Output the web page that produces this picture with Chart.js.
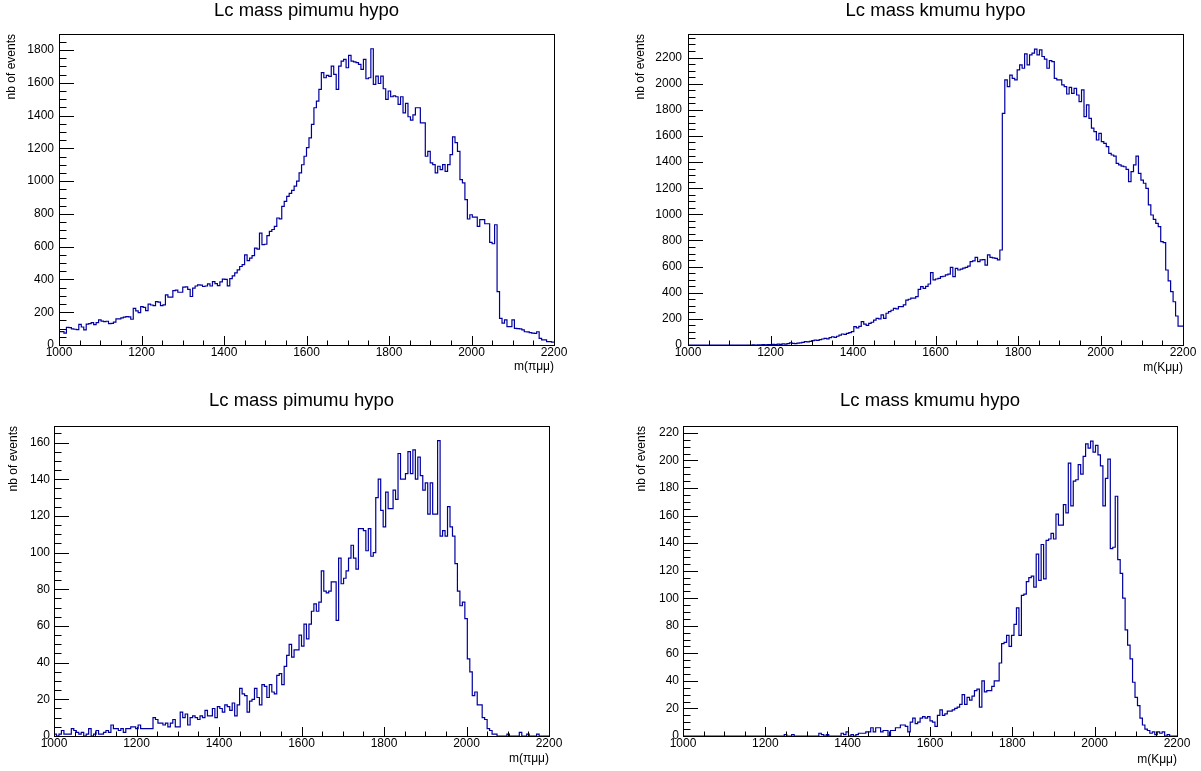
<!DOCTYPE html>
<html>
<head>
<meta charset="utf-8">
<title>Lc mass hypotheses</title>
<script src="https://cdn.jsdelivr.net/npm/chart.js@4.4.1/dist/chart.umd.min.js"></script>
<style>
  html, body { margin: 0; padding: 0; background: #fff; overflow: hidden; }
  body { width: 1201px; height: 771px; position: relative; }
  canvas { position: absolute; }
</style>
</head>
<body>
<canvas id="pTL" width="600" height="385" style="left:0;top:0"></canvas>
<canvas id="pTR" width="581" height="385" style="left:620px;top:0"></canvas>
<canvas id="pBL" width="600" height="386" style="left:0;top:385px"></canvas>
<canvas id="pBR" width="581" height="386" style="left:620px;top:385px"></canvas>
<script>
// Histogram binning: 200 bins of 6 MeV between 1000 and 2200
const massMin = 1000;
const massMax = 2200;
const nBins = 200;

const xTickLabels = [1000, 1200, 1400, 1600, 1800, 2000, 2200];

// Lc mass, pi mu mu hypothesis (upper sample)
const countsPimumuA = [
  82, 82, 72, 108, 106, 98, 96, 94, 126, 110,
  92, 128, 130, 137, 124, 136, 153, 146, 143, 145,
  130, 132, 140, 160, 160, 165, 170, 173, 172, 157,
  224, 208, 198, 234, 230, 210, 249, 244, 240, 265,
  262, 240, 245, 306, 292, 292, 332, 335, 322, 322,
  353, 355, 340, 296, 347, 360, 367, 365, 357, 360,
  373, 360, 387, 375, 362, 385, 402, 400, 361, 405,
  422, 440, 459, 479, 490, 550, 515, 530, 545, 591,
  585, 683, 612, 615, 667, 693, 705, 724, 775, 770,
  846, 877, 907, 925, 944, 970, 1000, 1050, 1100, 1152,
  1205, 1264, 1346, 1448, 1488, 1560, 1662, 1631, 1645, 1640,
  1702, 1651, 1560, 1702, 1733, 1743, 1692, 1767, 1733, 1728,
  1723, 1713, 1682, 1743, 1625, 1631, 1808, 1590, 1641, 1596,
  1641, 1564, 1499, 1550, 1515, 1520, 1515, 1468, 1515, 1417,
  1475, 1393, 1372, 1405, 1448, 1448, 1356, 1356, 1152, 1182,
  1111, 1101, 1050, 1091, 1070, 1101, 1060, 1101, 1162, 1270,
  1235, 1182, 1009, 989, 887, 769, 795, 781, 781, 724,
  765, 765, 740, 740, 626, 618, 734, 326, 163, 133,
  153, 112, 112, 153, 102, 100, 98, 92, 81, 80,
  76, 72, 71, 81, 41, 31, 31, 20, 20, 18
];

// Lc mass, K mu mu hypothesis (upper sample)
const countsKmumuA = [
  0, 0, 0, 0, 0, 0, 0, 0, 0, 0,
  0, 0, 0, 0, 0, 0, 0, 0, 0, 0,
  0, 0, 0, 0, 0, 0, 1, 0, 2, 1,
  3, 2, 4, 3, 5, 4, 6, 5, 8, 7,
  10, 17, 12, 11, 14, 17, 20, 26, 24, 28,
  33, 38, 35, 41, 46, 51, 47, 56, 63, 59,
  67, 76, 84, 82, 89, 94, 102, 140, 131, 143,
  179, 160, 150, 166, 174, 191, 204, 200, 230, 204,
  243, 256, 266, 281, 276, 293, 293, 307, 344, 350,
  358, 358, 370, 426, 447, 433, 448, 467, 554, 498,
  505, 510, 523, 526, 536, 542, 594, 523, 587, 574,
  580, 588, 594, 604, 638, 644, 671, 638, 651, 654,
  612, 689, 671, 666, 663, 651, 727, 1773, 2029, 1978,
  2066, 2041, 2029, 2105, 2143, 2118, 2228, 2143, 2220, 2233,
  2264, 2220, 2259, 2208, 2187, 2118, 2177, 2169, 2041, 2029,
  2029, 1991, 1978, 1921, 1972, 1926, 1964, 1913, 1863, 1952,
  1748, 1838, 1735, 1659, 1633, 1569, 1620, 1557, 1543, 1518,
  1467, 1454, 1446, 1390, 1378, 1369, 1364, 1344, 1250, 1327,
  1378, 1446, 1313, 1262, 1238, 1199, 1072, 995, 962, 930,
  906, 791, 784, 574, 491, 408, 331, 222, 145, 145
];

// Lc mass, pi mu mu hypothesis (lower sample)
const countsPimumuB = [
  1, 0, 1, 3, 1, 1, 1, 4, 3, 2,
  1, 2, 0, 1, 4, 0, 1, 3, 1, 1,
  2, 3, 2, 6, 4, 4, 3, 4, 2, 4,
  4, 5, 5, 4, 6, 4, 4, 4, 4, 4,
  10, 9, 7, 7, 6, 7, 5, 7, 9, 5,
  5, 13, 10, 12, 6, 10, 11, 10, 9, 11,
  10, 14, 11, 11, 15, 10, 16, 15, 13, 17,
  16, 14, 18, 11, 17, 26, 23, 22, 13, 19,
  20, 26, 21, 17, 28, 27, 21, 28, 24, 23,
  33, 34, 28, 38, 44, 50, 43, 47, 47, 55,
  49, 61, 53, 61, 68, 72, 68, 73, 90, 79,
  78, 79, 84, 84, 63, 97, 83, 86, 90, 97,
  104, 97, 91, 113, 113, 112, 101, 113, 98, 100,
  130, 140, 123, 114, 133, 124, 124, 134, 129, 154,
  140, 140, 143, 155, 143, 156, 140, 152, 142, 134,
  138, 121, 138, 121, 121, 161, 109, 112, 109, 125,
  114, 109, 94, 79, 71, 73, 64, 42, 35, 22,
  24, 17, 17, 10, 9, 4, 3, 1, 1, 0,
  0, 0, 0, 1, 0, 0, 0, 0, 2, 0,
  0, 1, 0, 0, 0, 1, 0, 0, 0, 0
];

// Lc mass, K mu mu hypothesis (lower sample)
const countsKmumuB = [
  0, 0, 0, 0, 0, 0, 0, 0, 0, 0,
  0, 0, 0, 0, 0, 0, 0, 0, 0, 0,
  0, 0, 0, 0, 0, 0, 0, 0, 0, 0,
  0, 0, 0, 0, 0, 0, 0, 0, 0, 0,
  0, 1, 0, 0, 1, 0, 0, 0, 0, 0,
  0, 0, 0, 0, 0, 2, 1, 0, 1, 0,
  0, 0, 0, 0, 2, 1, 3, 0, 1, 0,
  1, 2, 2, 2, 3, 3, 6, 3, 6, 6,
  3, 4, 4, 0, 4, 4, 6, 6, 8, 8,
  7, 3, 10, 13, 9, 10, 13, 14, 13, 14,
  11, 10, 7, 15, 19, 15, 16, 18, 18, 19,
  20, 21, 23, 30, 23, 28, 26, 29, 33, 34,
  21, 40, 32, 33, 33, 36, 40, 40, 53, 67,
  68, 73, 65, 73, 81, 93, 73, 102, 103, 112,
  115, 116, 108, 132, 113, 139, 114, 142, 143, 147,
  143, 161, 153, 153, 168, 162, 198, 167, 185, 186,
  197, 190, 203, 212, 209, 214, 206, 211, 204, 196,
  167, 187, 201, 136, 137, 174, 128, 118, 100, 77,
  66, 56, 39, 28, 22, 13, 8, 5, 4, 2,
  3, 1, 3, 2, 3, 0, 1, 0, 0, 0
];

// Labelled y ticks of each pad
const yTicksPimumuA = [0, 200, 400, 600, 800, 1000, 1200, 1400, 1600, 1800];
const yTicksKmumuA = [0, 200, 400, 600, 800, 1000, 1200, 1400, 1600, 1800, 2000, 2200];
const yTicksPimumuB = [0, 20, 40, 60, 80, 100, 120, 140, 160];
const yTicksKmumuB = [0, 20, 40, 60, 80, 100, 120, 140, 160, 180, 200, 220];

const FONT = '"Liberation Sans", Arial, Helvetica, sans-serif';
Chart.defaults.font.family = FONT;
Chart.defaults.color = '#000';

// Frame, inward tick marks and the pad title, in the style of a ROOT canvas
const rootFrame = {
  id: 'rootFrame',
  afterDraw(chart, args, o) {
    const { ctx, chartArea: a } = chart;
    const xs = chart.scales.x, ys = chart.scales.y;
    ctx.save();
    ctx.strokeStyle = '#000';
    ctx.lineWidth = 1;
    ctx.beginPath();
    for (let v = xs.min; v <= xs.max + 1e-6; v += o.xMinor) {
      const px = Math.round(xs.getPixelForValue(v)) + 0.5;
      const r = v / o.xMajor;
      const len = Math.abs(r - Math.round(r)) < 1e-6 ? 9 : 4.5;
      ctx.moveTo(px, a.bottom);
      ctx.lineTo(px, a.bottom - len);
    }
    for (let v = 0; v <= ys.max + 1e-6; v += o.yMinor) {
      const py = Math.round(ys.getPixelForValue(v)) + 0.5;
      const r = v / o.yMajor;
      const len = Math.abs(r - Math.round(r)) < 1e-6 ? 15 : 7.5;
      ctx.moveTo(a.left, py);
      ctx.lineTo(a.left + len, py);
    }
    ctx.stroke();
    ctx.strokeRect(a.left + 0.5, a.top + 0.5, a.right - a.left, a.bottom - a.top);
    ctx.fillStyle = '#000';
    ctx.font = '18.5px ' + FONT;
    ctx.textAlign = 'center';
    ctx.textBaseline = 'alphabetic';
    ctx.fillText(o.title, (a.left + a.right) / 2, o.titleBaseline);
    ctx.restore();
  }
};

function histPoints(counts) {
  const w = (massMax - massMin) / nBins;
  const pts = counts.map((c, i) => ({ x: massMin + i * w, y: c }));
  pts.push({ x: massMax, y: counts[counts.length - 1] });
  return pts;
}

function drawPanel(p) {
  new Chart(document.getElementById(p.id), {
    type: 'line',
    data: {
      datasets: [{
        data: histPoints(p.counts),
        stepped: 'before',
        borderColor: '#0000a0',
        borderWidth: 1.2,
        pointRadius: 0,
        fill: false
      }]
    },
    options: {
      responsive: false,
      animation: false,
      devicePixelRatio: 1,
      events: [],
      layout: { padding: { left: 0, top: p.padTop, right: p.padRight, bottom: 0 } },
      plugins: {
        legend: { display: false },
        tooltip: { enabled: false },
        title: { display: false },
        rootFrame: {
          title: p.title, titleBaseline: p.titleBaseline,
          xMajor: 200, xMinor: 50, yMajor: p.yStep, yMinor: p.yStep / 4
        }
      },
      scales: {
        x: {
          type: 'linear',
          min: massMin,
          max: massMax,
          afterBuildTicks: (s) => { s.ticks = xTickLabels.map(v => ({ value: v })); },
          afterFit: (s) => { s.height = p.xAxisHeight; },
          grid: { display: false, drawTicks: false },
          border: { display: false },
          ticks: {
            padding: 0, maxRotation: 0, autoSkip: false,
            font: { size: 12 }, color: '#000',
            callback: (v) => String(v)
          },
          title: {
            display: true, text: p.xTitle, align: 'end',
            font: { size: 12 }, color: '#000',
            padding: { top: 0, bottom: p.xTitlePad }
          }
        },
        y: {
          type: 'linear',
          min: 0,
          max: p.yMax,
          afterBuildTicks: (s) => { s.ticks = p.yTicks.map(v => ({ value: v })); },
          afterFit: (s) => { s.width = p.yAxisWidth; },
          grid: { display: false, drawTicks: false },
          border: { display: false },
          ticks: {
            autoSkip: false, padding: p.yLabelPad,
            font: { size: 12 }, color: '#000',
            callback: (v) => String(v)
          },
          title: {
            display: true, text: 'nb of events', align: 'end',
            font: { size: 12 }, color: '#000',
            padding: { top: p.yTitlePad, bottom: 0 }
          }
        }
      }
    },
    plugins: [rootFrame]
  });
}

drawPanel({
  id: 'pTL', counts: countsPimumuA, title: 'Lc mass pimumu hypo', titleBaseline: 15.5,
  xTitle: 'm(\u03c0\u03bc\u03bc)', yMax: 1898, yStep: 200, yTicks: yTicksPimumuA,
  padTop: 34, padRight: 46, yAxisWidth: 59, xAxisHeight: 40,
  yTitlePad: 4.8, xTitlePad: 10.8, yLabelPad: 5
});
drawPanel({
  id: 'pTR', counts: countsKmumuA, title: 'Lc mass kmumu hypo', titleBaseline: 15.5,
  xTitle: 'm(K\u03bc\u03bc)', yMax: 2380, yStep: 200, yTicks: yTicksKmumuA,
  padTop: 34, padRight: 18, yAxisWidth: 68, xAxisHeight: 40,
  yTitlePad: 13.3, xTitlePad: 10.5, yLabelPad: 6
});
drawPanel({
  id: 'pBL', counts: countsPimumuB, title: 'Lc mass pimumu hypo', titleBaseline: 20.7,
  xTitle: 'm(\u03c0\u03bc\u03bc)', yMax: 169, yStep: 20, yTicks: yTicksPimumuB,
  padTop: 41, padRight: 51, yAxisWidth: 54, xAxisHeight: 35,
  yTitlePad: 6.3, xTitlePad: 4.8, yLabelPad: 4
});
drawPanel({
  id: 'pBR', counts: countsKmumuB, title: 'Lc mass kmumu hypo', titleBaseline: 20.7,
  xTitle: 'm(K\u03bc\u03bc)', yMax: 225, yStep: 20, yTicks: yTicksKmumuB,
  padTop: 41, padRight: 24, yAxisWidth: 63, xAxisHeight: 35,
  yTitlePad: 14.3, xTitlePad: 4.3, yLabelPad: 4
});
</script>
</body>
</html>
